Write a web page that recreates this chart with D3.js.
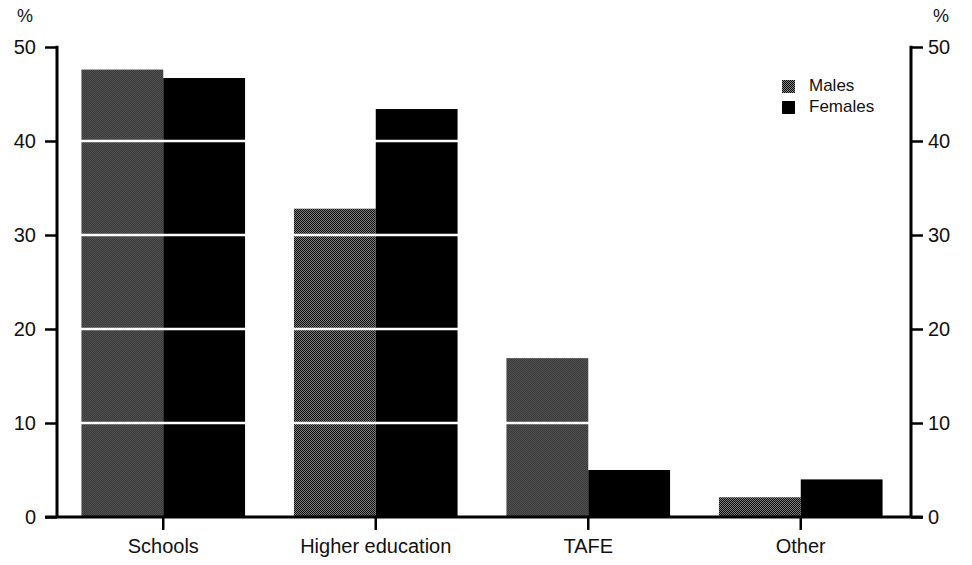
<!DOCTYPE html>
<html lang="en">
<head>
  <meta charset="utf-8">
  <title>Education sector by sex</title>
  <script src="https://d3js.org/d3.v7.min.js"></script>
  <style>
    body { margin: 0; background: #fff; }
    text { font-family: "Liberation Sans", Arial, sans-serif; fill: #111; }
  </style>
</head>
<body>
<svg id="chart" width="972" height="565"></svg>
<script>
  const categories = ["Schools", "Higher education", "TAFE", "Other"]
  const series = ["Males", "Females"]
  const males = [47.6, 32.8, 16.9, 2.1]
  const females = [46.7, 43.4, 5.0, 4.0]
  const yTicks = [0, 10, 20, 30, 40, 50]
  const gridTicks = [10, 20, 30, 40]

  const svg = d3.select("#chart")

  // stippled grey texture for the males bars
  const defs = svg.append("defs")
  const pat = defs.append("pattern")
    .attr("id", "stipple")
    .attr("width", 2).attr("height", 2)
    .attr("patternUnits", "userSpaceOnUse")
  pat.append("rect").attr("width", 2).attr("height", 2).attr("fill", "#8a8a8a")
  pat.append("rect").attr("x", 0).attr("y", 0).attr("width", 1).attr("height", 1).attr("fill", "#000")
  pat.append("rect").attr("x", 1).attr("y", 1).attr("width", 1).attr("height", 1).attr("fill", "#000")

  const plotLeft = 57, plotRight = 911, plotTop = 47, plotBottom = 517

  const x = d3.scaleBand()
    .domain(categories)
    .range([plotLeft, 907])
    .paddingInner(0.23)
    .paddingOuter(0.115)

  const xSub = d3.scaleBand()
    .domain(series)
    .range([0, x.bandwidth()])

  const y = d3.scaleLinear()
    .domain([0, 50])
    .range([plotBottom, plotTop])

  const color = d3.scaleOrdinal()
    .domain(series)
    .range(["url(#stipple)", "#000"])

  const rows = categories.map((c, i) => ({ cat: c, values: [
    { key: "Males", value: males[i] },
    { key: "Females", value: females[i] }
  ]}))

  // bars
  svg.append("g")
    .selectAll("g")
    .data(rows)
    .join("g")
      .attr("transform", d => `translate(${x(d.cat)},0)`)
    .selectAll("rect")
    .data(d => d.values)
    .join("rect")
      .attr("x", d => xSub(d.key))
      .attr("y", d => y(d.value))
      .attr("width", xSub.bandwidth())
      .attr("height", d => y(0) - y(d.value))
      .attr("fill", d => color(d.key))

  // white gridlines over the bars
  svg.append("g")
    .selectAll("line")
    .data(gridTicks)
    .join("line")
      .attr("x1", plotLeft + 2).attr("x2", plotRight - 2)
      .attr("y1", d => y(d)).attr("y2", d => y(d))
      .attr("stroke", "#fff")
      .attr("stroke-width", 2.5)

  // left axis
  const yLeft = svg.append("g")
    .attr("transform", `translate(${plotLeft},0)`)
    .call(d3.axisLeft(y).tickValues(yTicks).tickSize(12).tickPadding(9))
  // right axis
  const yRight = svg.append("g")
    .attr("transform", `translate(${plotRight},0)`)
    .call(d3.axisRight(y).tickValues(yTicks).tickSize(12).tickPadding(5))

  ;[yLeft, yRight].forEach(g => {
    g.select(".domain").remove()
    g.selectAll("line").attr("stroke", "#000").attr("stroke-width", 2.5)
    g.selectAll("text").style("font-size", "20px").attr("fill", "#111")
      .style("font-family", "'Liberation Sans', Arial, sans-serif")
    g.append("line")
      .attr("x1", 0).attr("x2", 0)
      .attr("y1", y(0)).attr("y2", y(50) - 1.2)
      .attr("stroke", "#000").attr("stroke-width", 3)
  })

  // bottom axis
  const xAxis = svg.append("g")
    .attr("transform", `translate(0,${plotBottom})`)
    .call(d3.axisBottom(x).tickSize(13).tickPadding(9))
  xAxis.select(".domain").remove()
  xAxis.selectAll("line").attr("stroke", "#000").attr("stroke-width", 2.5)
  xAxis.selectAll("text").style("font-size", "20px").attr("fill", "#111")
    .style("font-family", "'Liberation Sans', Arial, sans-serif")
  xAxis.append("line")
    .attr("x1", plotLeft - 12).attr("x2", plotRight + 12)
    .attr("y1", 0).attr("y2", 0)
    .attr("stroke", "#000").attr("stroke-width", 3)

  // unit labels
  svg.append("text").attr("x", 25).attr("y", 22).attr("text-anchor", "middle")
    .style("font-size", "18px").text("%")
  svg.append("text").attr("x", 941).attr("y", 22).attr("text-anchor", "middle")
    .style("font-size", "18px").text("%")

  // legend
  const legend = svg.append("g").attr("transform", "translate(782,80)")
  legend.selectAll("rect")
    .data(series)
    .join("rect")
      .attr("x", 0)
      .attr("y", (d, i) => i * 21)
      .attr("width", 13).attr("height", 13)
      .attr("fill", d => color(d))
  legend.selectAll("text")
    .data(series)
    .join("text")
      .attr("x", 27)
      .attr("y", (d, i) => i * 21 + 7)
      .attr("dominant-baseline", "middle")
      .style("font-size", "17px")
      .text(d => d)
</script>
</body>
</html>
